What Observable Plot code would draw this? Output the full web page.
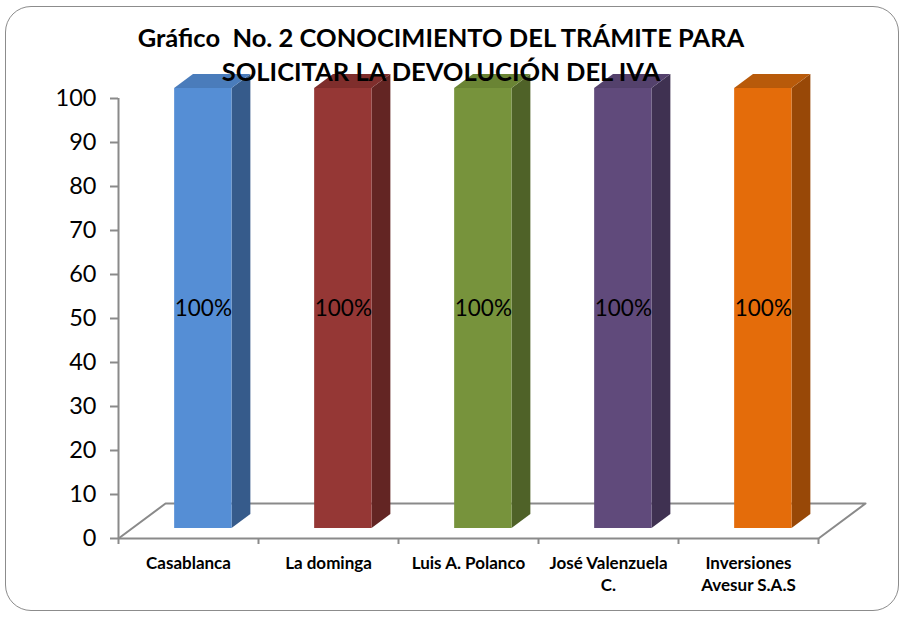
<!DOCTYPE html>
<html><head><meta charset="utf-8">
<script src="https://cdn.jsdelivr.net/npm/d3@7"></script>
<script src="https://cdn.jsdelivr.net/npm/@observablehq/plot@0.6"></script>
<style>
body{margin:0;background:#fff;}
#wrap{position:relative;width:906px;height:618px;overflow:hidden;background:#fff;}
#chart{position:absolute;left:0;top:0;}
#border{position:absolute;left:5px;top:6px;width:894px;height:605px;border:1.5px solid #8c8c8c;border-radius:26px;box-sizing:border-box;pointer-events:none;}
#title{position:absolute;left:0;top:20px;width:882px;text-align:center;font-family:Lato,"Liberation Sans",sans-serif;font-weight:bold;font-size:25.5px;line-height:34px;color:#000;}
</style></head>
<body>
<div id="wrap">
  <div id="chart"></div>
  <div id="border"></div>
  <div id="title">Gráfico&nbsp; No. 2 CONOCIMIENTO DEL TRÁMITE PARA<br>SOLICITAR LA DEVOLUCIÓN DEL IVA</div>
</div>
<script>
// ---- data ----
const categories = ["Casablanca", "La dominga", "Luis A. Polanco", "José Valenzuela\nC.", "Inversiones\nAvesur S.A.S"];
const values = [100, 100, 100, 100, 100];
const valueLabels = ["100%", "100%", "100%", "100%", "100%"];
const yTicks = [0, 10, 20, 30, 40, 50, 60, 70, 80, 90, 100];
const frontColors = ["#558ED5", "#953735", "#77933C", "#604A7B", "#E46C0A"];
const sideColors  = ["#365B8B", "#632523", "#4F6228", "#3F3151", "#984807"];
const topColors   = ["#4A7CBB", "#7F2E2C", "#6A8434", "#54416C", "#B85A0A"];

// ---- 3D geometry (in scale units) ----
const DX = 0.336, DY = 7.95;      // floor depth
const F1 = 0.286, F2 = 0.686;     // bar front / back plane fractions of depth
const BL = 0.305, BR = 0.715;     // bar extent within a category
const n = categories.length;

const bars = values.map((v, i) => ({
  i, v, label: valueLabels[i], cat: categories[i],
  x1: i + BL + F1 * DX, x2: i + BR + F1 * DX,
  y1: F1 * DY, y2: v + F1 * DY,
  front: frontColors[i], side: sideColors[i], top: topColors[i]
}));
const ddx = (F2 - F1) * DX, ddy = (F2 - F1) * DY;

const sidePts = bars.flatMap(b => [
  {i: b.i, x: b.x2, y1: b.y1, y2: b.y2, c: b.side},
  {i: b.i, x: b.x2 + ddx, y1: b.y1 + ddy, y2: b.y2 + ddy, c: b.side}
]);
const topPts = bars.flatMap(b => [
  {i: b.i, y: b.y2, x1: b.x1, x2: b.x2, c: b.top},
  {i: b.i, y: b.y2 + ddy, x1: b.x1 + ddx, x2: b.x2 + ddx, c: b.top}
]);
const floor = [[0, 0], [DX, DY], [n + DX, DY], [n, 0]];

const grey = "#8a8a8a";
const chart = Plot.plot({
  width: 906, height: 618,
  marginLeft: 118, marginRight: 88, marginTop: 98, marginBottom: 80,
  x: {domain: [0, n], axis: null},
  y: {domain: [0, 100], axis: null},
  color: {type: "identity"},
  style: {fontFamily: "Lato, 'Liberation Sans', sans-serif", color: "#000", background: "transparent"},
  marks: [
    Plot.line(floor, {x: d => d[0], y: d => d[1], stroke: grey, strokeWidth: 2}),
    Plot.ruleY([0], {x1: 0, x2: n, stroke: grey, strokeWidth: 2}),
    Plot.ruleX([0], {y1: 0, y2: 100, stroke: grey, strokeWidth: 2}),
    Plot.axisY({ticks: yTicks, tickSize: 8, tickPadding: 14, stroke: grey, strokeWidth: 2, fontSize: 23.5, fill: "#000"}),
    Plot.axisX({ticks: d3.range(n + 1), tickSize: 6, tickFormat: () => "", stroke: grey, strokeWidth: 2}),
    Plot.areaY(sidePts, {x: "x", y1: "y1", y2: "y2", z: "i", fill: "c"}),
    Plot.areaX(topPts, {y: "y", x1: "x1", x2: "x2", z: "i", fill: "c"}),
    Plot.rect(bars, {x1: "x1", x2: "x2", y1: "y1", y2: "y2", fill: "front"}),
    Plot.text(bars, {x: b => (b.x1 + b.x2) / 2, y: b => b.v / 2 + b.y1, text: "label", fontSize: 22.5, fill: "#000"}),
    Plot.text(bars, {x: b => b.i + 0.5, y: 0, text: "cat", dy: 15, lineAnchor: "top", fontSize: 17, fontWeight: "bold", lineHeight: 1.3, fill: "#000"})
  ]
});
document.getElementById("chart").appendChild(chart);
</script>
</body></html>
